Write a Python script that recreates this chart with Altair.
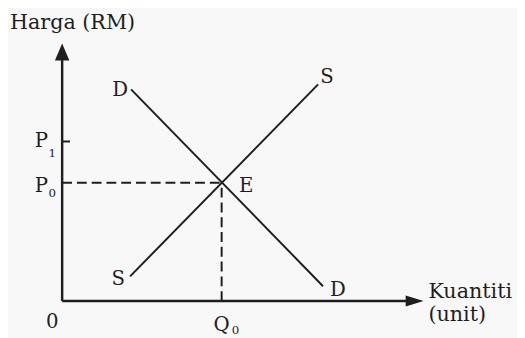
import altair as alt
import pandas as pd

# ---- data (diagram units: origin at the axes' crossing) ----
demand_x = [70, 265]
demand_y = [215, 15]
supply_x = [69, 260]
supply_y = [25, 220]

eq_q = 162          # Q0
eq_p = 120          # P0
p1 = 162            # P1

x_axis_end = 352
y_axis_end = 246
x_arrow = [358]
y_arrow = [253]

label_text = ["D", "S", "E", "S", "D", "P", "P", "0", "Q"]
label_x = [59, 269, 187, 57, 280, -21, -21, -10, 162]
label_y = [208, 221, 111, 16, 5, 156, 111, -27, -30]

sub_text = ["1", "0", "0"]
sub_x = [-10, -10, 176]
sub_y = [146, 106, -34]

title_text = ["Harga (RM)", "Kuantiti", "(unit)"]
title_x = [-53, 372, 372]
title_y = [276, 3, -20]

FONT = "DejaVu Serif"
INK = "#1e1e1e"

xs = alt.Scale(domain=[-55, 462], nice=False, zero=False)
ys = alt.Scale(domain=[-35, 295], nice=False, zero=False)

def X(f="x"):
    return alt.X(f"{f}:Q", scale=xs, axis=None)

def Y(f="y"):
    return alt.Y(f"{f}:Q", scale=ys, axis=None)

curves = pd.DataFrame({
    "curve": ["D", "D", "S", "S"],
    "x": demand_x + supply_x,
    "y": demand_y + supply_y,
    "o": [0, 1, 0, 1],
})
lines = alt.Chart(curves).mark_line(color=INK, strokeWidth=2).encode(
    x=X(), y=Y(), detail="curve:N", order="o:Q")

axes_df = pd.DataFrame({
    "x": [0, 0], "x2": [0, x_axis_end],
    "y": [0, 0], "y2": [y_axis_end, 0],
})
axes = alt.Chart(axes_df).mark_rule(color=INK, strokeWidth=2.5).encode(
    x=X(), x2="x2:Q", y=Y(), y2="y2:Q")

dash_df = pd.DataFrame({
    "x": [0, eq_q], "x2": [eq_q, eq_q],
    "y": [eq_p, 0], "y2": [eq_p, eq_p],
})
dashes = alt.Chart(dash_df).mark_rule(
    color=INK, strokeWidth=2, strokeDash=[10, 5]).encode(
    x=X(), x2="x2:Q", y=Y(), y2="y2:Q")

tick_df = pd.DataFrame({"x": [0], "x2": [8], "y": [p1], "y2": [p1]})
tick = alt.Chart(tick_df).mark_rule(color=INK, strokeWidth=2).encode(
    x=X(), x2="x2:Q", y=Y(), y2="y2:Q")

up = alt.Chart(pd.DataFrame({"x": [0], "y": y_arrow})).mark_point(
    shape="M0,-1L0.85,1L-0.85,1Z", size=300, filled=True, opacity=1,
    color=INK, strokeWidth=0).encode(x=X(), y=Y())
right = alt.Chart(pd.DataFrame({"x": x_arrow, "y": [0]})).mark_point(
    shape="M1,0L-1,-0.62L-1,0.62Z", size=330, filled=True, opacity=1,
    color=INK, strokeWidth=0).encode(x=X(), y=Y())

labels = alt.Chart(pd.DataFrame({"t": label_text, "x": label_x, "y": label_y})).mark_text(
    font=FONT, fontSize=20, color=INK, align="center", baseline="alphabetic").encode(
    x=X(), y=Y(), text="t:N")

subs = alt.Chart(pd.DataFrame({"t": sub_text, "x": sub_x, "y": sub_y})).mark_text(
    font=FONT, fontSize=12, color=INK, align="center", baseline="alphabetic").encode(
    x=X(), y=Y(), text="t:N")

titles = alt.Chart(pd.DataFrame({"t": title_text, "x": title_x, "y": title_y})).mark_text(
    font=FONT, fontSize=21, color=INK, align="left", baseline="alphabetic").encode(
    x=X(), y=Y(), text="t:N")

chart = alt.layer(dashes, axes, tick, up, right, lines, labels, subs, titles).properties(
    width=517, height=330, padding=0, autosize=alt.AutoSizeParams(type="none"),
    background="#f8f8f8",
).configure_view(stroke=None)

chart.save("out.html", embed_options={"renderer": "svg", "actions": False})
